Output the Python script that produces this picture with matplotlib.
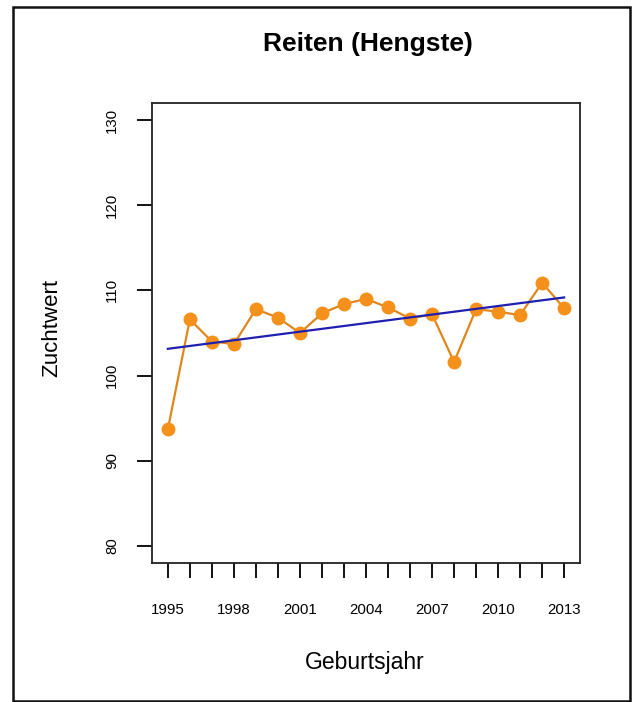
import numpy as np
import matplotlib
matplotlib.use("Agg")
import matplotlib.pyplot as plt
from matplotlib.patches import Rectangle

plt.rcParams['font.family'] = ['Liberation Sans', 'DejaVu Sans']

# Zuchtwerte der Hengste nach Geburtsjahr
jahre = np.arange(1995, 2014)
zuchtwert = [93.7, 106.6, 104.0, 103.7, 107.8, 106.8, 105.0, 107.3, 108.4, 109.0,
             108.0, 106.7, 107.2, 101.6, 107.8, 107.5, 107.1, 110.9, 107.9]
x_labels = [1995, 1998, 2001, 2004, 2007, 2010, 2013]
y_ticks = [80, 90, 100, 110, 120, 130]

W, H = 638, 702
fig = plt.figure(figsize=(W / 100, H / 100), dpi=100)
ax = fig.add_axes([152 / W, 1 - 563 / H, (580 - 152) / W, (563 - 103) / H])

# Linie mit Punkten
ax.plot(jahre, zuchtwert, color='#e0861e', lw=1.6, zorder=2)
ax.plot(jahre, zuchtwert, 'o', color='#f5901a', ms=9, mec='#f5901a', zorder=3)

# lineare Regression
k, d = np.polyfit(jahre, zuchtwert, 1)
ax.plot(jahre, k * jahre + d, color='#1f1fb0', lw=1.6, zorder=4)

ax.set_xlim(1995 - 0.72, 2013 + 0.72)
ax.set_ylim(78, 132)
ax.set_xticks(jahre)
ax.set_xticklabels([str(j) if j in x_labels else '' for j in jahre])
ax.set_yticks(y_ticks)
ax.set_yticklabels([str(v) for v in y_ticks], rotation=90, va='center')

ax.tick_params(axis='x', length=10.5, width=1.3, pad=18, labelsize=10.8, colors='black')
ax.tick_params(axis='y', length=10.5, width=1.3, pad=13, labelsize=10.8, colors='black')
for sp in ax.spines.values():
    sp.set_linewidth(1.3)
    sp.set_color('#222222')

fig.text(368 / W, 1 - 44 / H, 'Reiten (Hengste)', ha='center', va='center',
         fontsize=19, fontweight='bold')
fig.text(365 / W, 1 - 663 / H, 'Geburtsjahr', ha='center', va='center', fontsize=16.5)
fig.text(52 / W, 1 - 328 / H, 'Zuchtwert', ha='center', va='center', fontsize=16,
         rotation=90)

# Rahmen um die Grafik
fig.patches.append(Rectangle((12.5 / W, 1 - 700.5 / H), (630 - 12.5) / W, (700.5 - 7) / H,
                             transform=fig.transFigure, fill=False, lw=1.8,
                             edgecolor='#111111'))

fig.savefig('out.png', dpi=100)
